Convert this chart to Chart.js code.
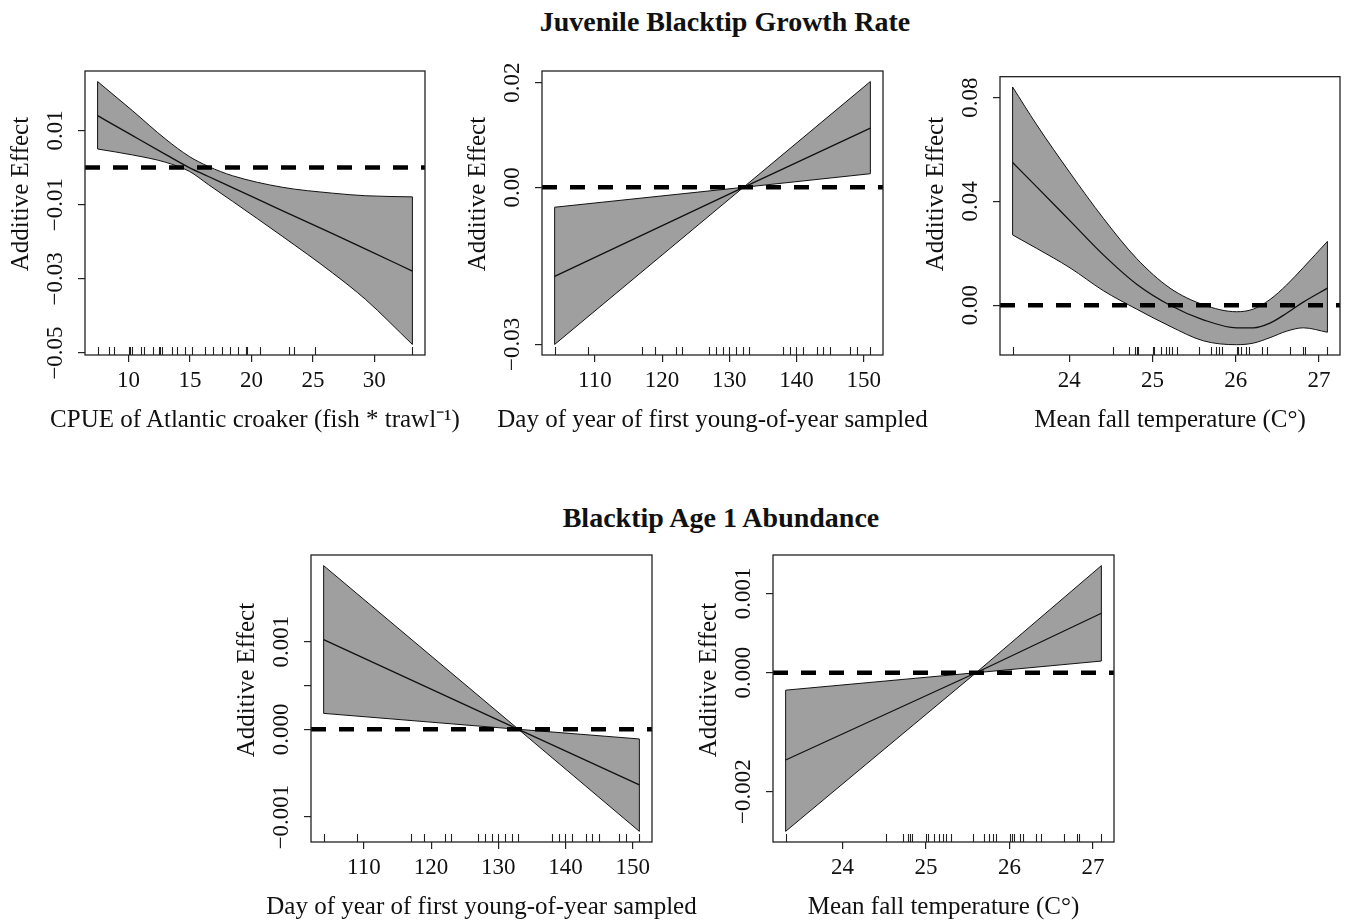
<!DOCTYPE html>
<html>
<head>
<meta charset="utf-8">
<script src="https://cdn.jsdelivr.net/npm/chart.js@4.4.1/dist/chart.umd.min.js"></script>
<style>
html,body{margin:0;padding:0;background:#fff;overflow:hidden;width:1347px;height:921px;}
.ttl{position:absolute;width:700px;text-align:center;font-family:'Liberation Serif','Times New Roman',serif;font-weight:bold;font-size:28px;line-height:28px;color:#111;white-space:nowrap;}
.pan{position:absolute;}
.xt{position:absolute;width:700px;text-align:center;font-family:'Liberation Serif','Times New Roman',serif;font-size:25px;line-height:30px;color:#111;white-space:nowrap;}
.yt{position:absolute;width:300px;text-align:center;font-family:'Liberation Serif','Times New Roman',serif;font-size:25px;line-height:30px;color:#111;white-space:nowrap;transform:rotate(-90deg);}
</style>
</head>
<body>
<div class="ttl" style="left:375px;top:8px;">Juvenile Blacktip Growth Rate</div>
<div class="ttl" style="left:371px;top:504px;">Blacktip Age 1 Abundance</div>
<script>
// ---------------- DATA ----------------
// Panel 1: CPUE of Atlantic croaker
const cpueX     = [7.48, 10.33, 13.04, 14.94, 16.5, 18.46, 22.5, 26.6, 29.3, 33.1];
const cpueFit   = [0.0140, 0.0086, 0.0035, 0.0000, -0.0024, -0.0054, -0.0116, -0.0178, -0.0220, -0.0279];
const cpueUpper = [0.0232, 0.0153, 0.0076, 0.0030, 0.0003, -0.0022, -0.0053, -0.0069, -0.0076, -0.0079];
const cpueLower = [0.0050, 0.0034, 0.0014, -0.0010, -0.0046, -0.0091, -0.0185, -0.0284, -0.0356, -0.0477];
const cpueRug   = [7.48, 8.43, 8.83, 10.0, 10.1, 10.27, 11.0, 11.27, 11.95, 12.44, 12.57, 12.76, 13.52, 13.98,
                   14.6, 15.15, 16.2, 16.88, 17.64, 18.24, 18.94, 19.54, 19.62, 20.68, 23.06, 23.47, 25.18, 33.09];

// Shared covariate observations
const dayRug  = [104, 109, 117, 119, 122, 123, 127, 128, 129, 130, 131, 132, 133, 138, 139, 140, 141, 143, 144, 145, 148, 149, 151];
const tempRug = [23.33, 24.52, 24.72, 24.79, 24.81, 24.83, 25.0, 25.02, 25.10, 25.16, 25.20, 25.24, 25.30, 25.56, 25.70,
                 25.76, 25.80, 25.84, 26.01, 26.03, 26.06, 26.12, 26.16, 26.32, 26.38, 26.65, 26.81, 26.83, 27.10];

// Panel 2: growth vs day of year
const dayGX     = [104, 132.1, 151];
const dayGFit   = [-0.0170, 0.0000, 0.0113];
const dayGUpper = [-0.0038, 0.0000, 0.0202];
const dayGLower = [-0.0300, 0.0000, 0.0026];

// Panel 3: growth vs mean fall temperature
const tempGX     = [23.32, 23.61, 24.01, 24.41, 24.81, 25.21, 25.61, 26.01, 26.21, 26.41, 26.61, 26.81, 27.10];
const tempGFit   = [0.0550, 0.0456, 0.0325, 0.0194, 0.0081, 0.0000, -0.0056, -0.0087, -0.0087, -0.0069, -0.0031, 0.0012, 0.0066];
const tempGUpper = [0.0841, 0.0695, 0.0510, 0.0335, 0.0180, 0.0066, 0.0002, -0.0025, -0.0015, 0.0022, 0.0078, 0.0145, 0.0246];
const tempGLower = [0.0271, 0.0219, 0.0144, 0.0056, -0.0015, -0.0081, -0.0137, -0.0152, -0.0146, -0.0125, -0.0100, -0.0087, -0.0104];

// Panel 4: age-1 abundance vs day of year
const dayAX     = [104, 133.0, 151];
const dayAFit   = [0.001023, 0.0, -0.000633];
const dayAUpper = [0.001867, 0.0, -0.00011];
const dayALower = [0.000182, 0.0, -0.001164];

// Panel 5: age-1 abundance vs mean fall temperature
const tempAX     = [23.32, 25.6, 27.1];
const tempAFit   = [-0.00110, 0.0, 0.00075];
const tempAUpper = [-0.00022, 0.0, 0.00135];
const tempALower = [-0.00200, 0.0, 0.000147];

// Tick values / labels
const cpueTicks = [10, 15, 20, 25, 30];
const dayTicks  = [110, 120, 130, 140, 150];
const tempTicks = [24, 25, 26, 27];
const p1YTicks = [-0.05, -0.03, -0.01, 0.01];
const p1YLabels = ['\u22120.05', '\u22120.03', '\u22120.01', '0.01'];
const p2YTicks = [-0.03, 0, 0.02];
const p2YLabels = ['\u22120.03', '0.00', '0.02'];
const p3YTicks = [0, 0.04, 0.08];
const p3YLabels = ['0.00', '0.04', '0.08'];
const p4YTicks = [-0.001, 0, 0.0005, 0.001];
const p4YLabels = ['\u22120.001', '0.000', '', '0.001'];
const p5YTicks = [-0.0015, 0, 0.001];
const p5YLabels = ['\u22120.002', '0.000', '0.001'];

const yTitle = 'Additive Effect';
const xTitleCpue = 'CPUE of Atlantic croaker (fish * trawl\u207B\u00B9)';
const xTitleDay = 'Day of year of first young-of-year sampled';
const xTitleTemp = 'Mean fall temperature (C\u00B0)';

// ---------------- LAYOUT ----------------
const FONT = "'Liberation Serif','Times New Roman',serif";
const ML = 85, MT = 10, MR = 6, MB = 78;
const TICK_FONT = 23;

const panels = [
  {box:[85,71,425,355],   x:cpueX, fit:cpueFit, up:cpueUpper, lo:cpueLower, rug:cpueRug, curved:true,
   xt:cpueTicks, yt:p1YTicks, yl:p1YLabels, xTitle:xTitleCpue},
  {box:[542,71,883,355],  x:dayGX, fit:dayGFit, up:dayGUpper, lo:dayGLower, rug:dayRug, curved:false,
   xt:dayTicks, yt:p2YTicks, yl:p2YLabels, xTitle:xTitleDay},
  {box:[1000,71,1340,355],x:tempGX, fit:tempGFit, up:tempGUpper, lo:tempGLower, rug:tempRug, curved:true,
   xt:tempTicks, yt:p3YTicks, yl:p3YLabels, xTitle:xTitleTemp},
  {box:[311,555,652,842], x:dayAX, fit:dayAFit, up:dayAUpper, lo:dayALower, rug:dayRug, curved:false,
   xt:dayTicks, yt:p4YTicks, yl:p4YLabels, xTitle:xTitleDay},
  {box:[773,555,1114,842],x:tempAX, fit:tempAFit, up:tempAUpper, lo:tempALower, rug:tempRug, curved:false,
   xt:tempTicks, yt:p5YTicks, yl:p5YLabels, xTitle:xTitleTemp}
];

const rugPlugin = {
  id: 'rug',
  afterDatasetsDraw(chart, args, opts) {
    const {ctx, chartArea: a} = chart;
    const xs = chart.scales.x;
    ctx.save();
    ctx.strokeStyle = '#222';
    ctx.lineWidth = 1.1;
    ctx.beginPath();
    for (const v of (opts.values || [])) {
      const px = Math.round(xs.getPixelForValue(v)) + 0.5;
      ctx.moveTo(px, a.bottom);
      ctx.lineTo(px, a.bottom - 8);
    }
    ctx.stroke();
    ctx.lineWidth = 1.3;
    ctx.strokeRect(a.left, a.top, a.right - a.left, a.bottom - a.top);
    ctx.restore();
  }
};
Chart.register(rugPlugin);

const measure = document.createElement('canvas').getContext('2d');
measure.font = TICK_FONT + "px " + FONT;

function addDiv(cls, text, left, top) {
  const d = document.createElement('div');
  d.className = cls;
  d.textContent = text;
  d.style.left = left + 'px';
  d.style.top = top + 'px';
  document.body.appendChild(d);
}

function makePanel(p) {
  const [bl, bt, br, bb] = p.box;
  const W = br - bl + ML + MR, H = bb - bt + MT + MB;
  const wrap = document.createElement('div');
  wrap.className = 'pan';
  wrap.style.left = (bl - ML) + 'px';
  wrap.style.top = (bt - MT) + 'px';
  const cv = document.createElement('canvas');
  cv.width = W; cv.height = H;
  cv.style.width = W + 'px'; cv.style.height = H + 'px';
  wrap.appendChild(cv);
  document.body.appendChild(wrap);

  // axis titles as real text
  addDiv('xt', p.xTitle, (bl + br) / 2 - 350, bb + 49);
  addDiv('yt', yTitle, bl - 65 - 150, (bt + bb) / 2 - 19 - 15);

  const xmin = Math.min(...p.x), xmax = Math.max(...p.x);
  const xpad = (xmax - xmin) * 0.04;
  const band = p.up.concat(p.lo);
  const ymin = Math.min(...band), ymax = Math.max(...band);
  const ypad = (ymax - ymin) * 0.04;
  const pts = arr => p.x.map((x, i) => ({x: x, y: arr[i]}));
  const n = p.x.length - 1;
  const widest = Math.max(...p.yl.map(s => measure.measureText(s).width));
  const yPad = 29 - 7 - widest / 2;
  const interp = p.curved ? 'monotone' : 'default';

  const lineDs = (data, w, extra) => Object.assign({
    data: data, borderColor: '#111', borderWidth: w, pointRadius: 0, tension: 0,
    fill: false, cubicInterpolationMode: interp
  }, extra || {});

  new Chart(cv, {
    type: 'line',
    data: {
      datasets: [
        lineDs([{x: xmin - xpad, y: 0}, {x: xmax + xpad, y: 0}], 4.5, {borderColor: '#000', borderDash: [15, 13], cubicInterpolationMode: 'default'}),
        lineDs(pts(p.fit), 1.3),
        lineDs([{x: p.x[0], y: p.lo[0]}, {x: p.x[0], y: p.up[0]}], 1, {cubicInterpolationMode: 'default'}),
        lineDs([{x: p.x[n], y: p.lo[n]}, {x: p.x[n], y: p.up[n]}], 1, {cubicInterpolationMode: 'default'}),
        lineDs(pts(p.lo), 1),
        lineDs(pts(p.up), 1, {fill: {target: 4}, backgroundColor: '#9f9f9f'})
      ]
    },
    options: {
      responsive: false, animation: false, devicePixelRatio: 1,
      layout: {padding: {left: 0, top: MT, right: MR, bottom: 0}},
      plugins: {legend: {display: false}, tooltip: {enabled: false}, rug: {values: p.rug}},
      scales: {
        x: {
          type: 'linear', min: xmin - xpad, max: xmax + xpad,
          afterBuildTicks: s => { s.ticks = p.xt.map(v => ({value: v})); },
          afterFit: s => { s.height = MB; },
          ticks: {autoSkip: false, minRotation: 0, maxRotation: 0, padding: 5, color: '#111',
                  font: {family: FONT, size: TICK_FONT}, callback: v => String(v)},
          grid: {display: true, drawOnChartArea: false, drawTicks: true, tickLength: 7, color: '#222', lineWidth: 1.2},
          border: {display: false},
          title: {display: false}
        },
        y: {
          type: 'linear', min: ymin - ypad, max: ymax + ypad,
          afterBuildTicks: s => { s.ticks = p.yt.map(v => ({value: v})); },
          afterFit: s => { s.width = ML; },
          ticks: {autoSkip: false, minRotation: 90, maxRotation: 90, crossAlign: 'center', padding: yPad, color: '#111',
                  font: {family: FONT, size: TICK_FONT}, callback: (v, i) => p.yl[i]},
          grid: {display: true, drawOnChartArea: false, drawTicks: true, tickLength: 7, color: '#222', lineWidth: 1.2},
          border: {display: false},
          title: {display: false}
        }
      }
    }
  });
}
panels.forEach(makePanel);
</script>
</body>
</html>
